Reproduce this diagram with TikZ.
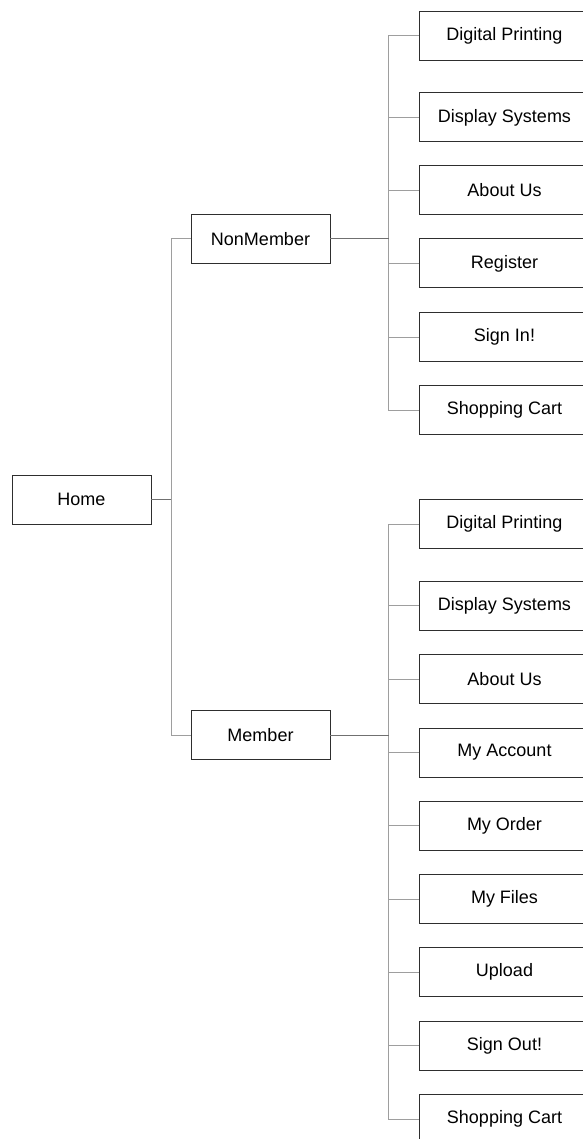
\documentclass[tikz,border=0pt]{standalone}
\usepackage{fontspec}
\setmainfont{Liberation Sans}
\usepackage{tikz}
\definecolor{boxline}{HTML}{2E2E2E}
\definecolor{stubgray}{HTML}{707070}
\definecolor{treegray}{HTML}{9E9E9E}
\usetikzlibrary{positioning}
\tikzset{
	pagebox/.style={draw=boxline, fill=white, line width=1pt, inner sep=0pt, outer sep=0pt,
		minimum height=49pt, font=\fontsize{18}{20}\selectfont},
	leftbox/.style={pagebox, minimum width=139pt},
	rightbox/.style={pagebox, minimum width=171pt},
	pstub/.style={draw=stubgray, line width=1pt},
	tlink/.style={draw=treegray, line width=1pt}
}

\begin{document}
\begin{tikzpicture}[x=1pt, y=-1pt]
	\useasboundingbox (0,0) rectangle (582,1139);
	% home and the two user kinds
	\node[leftbox] (home) at (81.5,499.5) {Home};
	\node[leftbox] (nonmember) at (260.5,239) {NonMember};
	\node[leftbox] (member) at (260.5,735) {Member};
	% pages seen by a visitor
	\node[rightbox] (nm1) at (504.5,36) {Digital Printing};
	\node[rightbox] (nm2) at (504.5,117.5) {Display Systems};
	\node[rightbox] (nm3) at (504.5,190.5) {About Us};
	\node[rightbox] (nm4) at (504.5,263.5) {Register};
	\node[rightbox] (nm5) at (504.5,337) {Sign In!};
	\node[rightbox] (nm6) at (504.5,410) {Shopping Cart};
	% pages seen by a member
	\node[rightbox] (m1) at (504.5,524) {Digital Printing};
	\node[rightbox] (m2) at (504.5,605.5) {Display Systems};
	\node[rightbox] (m3) at (504.5,679) {About Us};
	\node[rightbox] (m4) at (504.5,752.5) {My Account};
	\node[rightbox] (m5) at (504.5,825.5) {My Order};
	\node[rightbox] (m6) at (504.5,899) {My Files};
	\node[rightbox] (m7) at (504.5,972) {Upload};
	\node[rightbox] (m8) at (504.5,1045.5) {Sign Out!};
	\node[rightbox] (m9) at (504.5,1119) {Shopping Cart};
	% trunks
	\coordinate (lt) at (171,499.5);
	\coordinate (rt1) at (388.5,239);
	\coordinate (rt2) at (388.5,735);
	\draw[tlink] (lt) |- (nonmember);
	\draw[tlink] (lt) |- (member);
	\draw[pstub] (home) -- (lt);
	\draw[tlink] (rt1) |- (nm1);
	\draw[tlink] (rt1) |- (nm2);
	\draw[tlink] (rt1) |- (nm3);
	\draw[tlink] (rt1) |- (nm4);
	\draw[tlink] (rt1) |- (nm5);
	\draw[tlink] (rt1) |- (nm6);
	\draw[pstub] (nonmember) -- (rt1);
	\draw[tlink] (rt2) |- (m1);
	\draw[tlink] (rt2) |- (m2);
	\draw[tlink] (rt2) |- (m3);
	\draw[tlink] (rt2) |- (m4);
	\draw[tlink] (rt2) |- (m5);
	\draw[tlink] (rt2) |- (m6);
	\draw[tlink] (rt2) |- (m7);
	\draw[tlink] (rt2) |- (m8);
	\draw[tlink] (rt2) |- (m9);
	\draw[pstub] (member) -- (rt2);
\end{tikzpicture}
\end{document}
